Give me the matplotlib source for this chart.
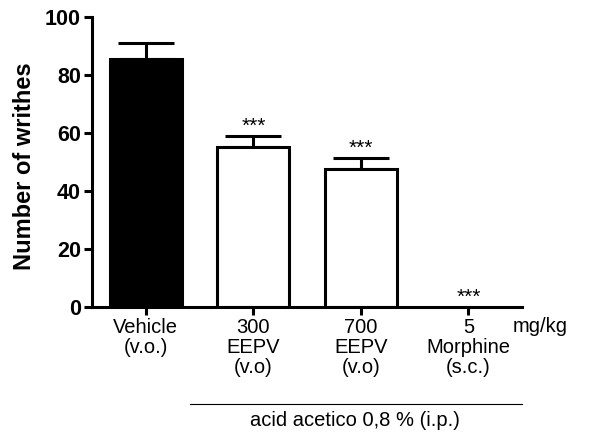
import matplotlib.pyplot as plt
from matplotlib.lines import Line2D

plt.rcParams['font.family'] = ['Liberation Sans', 'DejaVu Sans']

# dados
groups = ["Vehicle\n(v.o.)", "300\nEEPV\n(v.o)", "700\nEEPV\n(v.o)", "5\nMorphine\n(s.c.)"]
means = [85.5, 55.0, 47.5, 0.0]
sems = [5.5, 4.0, 4.0, 0.0]
colors = ["black", "white", "white", "white"]
signif = ["", "***", "***", "***"]

fig = plt.figure(figsize=(5.9, 4.34), dpi=100)
ax = fig.add_axes([0.156, 0.293, 0.729, 0.668])

x = list(range(len(groups)))
for i in x:
    if means[i] > 0:
        ax.bar(i, means[i], width=0.67, color=colors[i], edgecolor="black",
               linewidth=2.2, zorder=2)
        ax.errorbar(i, means[i], yerr=[[0], [sems[i]]], fmt="none", ecolor="black",
                    elinewidth=2.2, capsize=20, capthick=2.2, zorder=1)
    if signif[i]:
        ax.text(i, means[i] + sems[i], signif[i], ha="center", va="bottom",
                fontsize=15)

ax.set_xlim(-0.5, 3.5)
ax.set_ylim(0, 100)
ax.set_yticks([0, 20, 40, 60, 80, 100])
ax.set_xticks(x)
ax.set_xticklabels(groups, fontsize=14.5, linespacing=1.06)
for lab in ax.get_yticklabels():
    lab.set_fontweight("bold")
    lab.set_fontsize(15.5)
ax.set_ylabel("Number of writhes", fontsize=17, fontweight="bold")
ax.yaxis.set_label_coords(-0.13, 0.485)

for s in ["top", "right"]:
    ax.spines[s].set_visible(False)
for s in ["left", "bottom"]:
    ax.spines[s].set_linewidth(2.2)
ax.tick_params(axis="both", width=2.2, length=6, direction="out", pad=2)

fig.text(540 / 590, 1 - 327 / 434, "mg/kg", ha="center", va="center", fontsize=14.5)
fig.add_artist(Line2D([190 / 590, 522 / 590], [1 - 404 / 434, 1 - 404 / 434],
                      color="black", linewidth=0.8))
fig.text(355 / 590, 1 - 420 / 434, "acid acetico 0,8 % (i.p.)", ha="center",
         va="center", fontsize=14.5)

plt.savefig("out.png", dpi=100)
